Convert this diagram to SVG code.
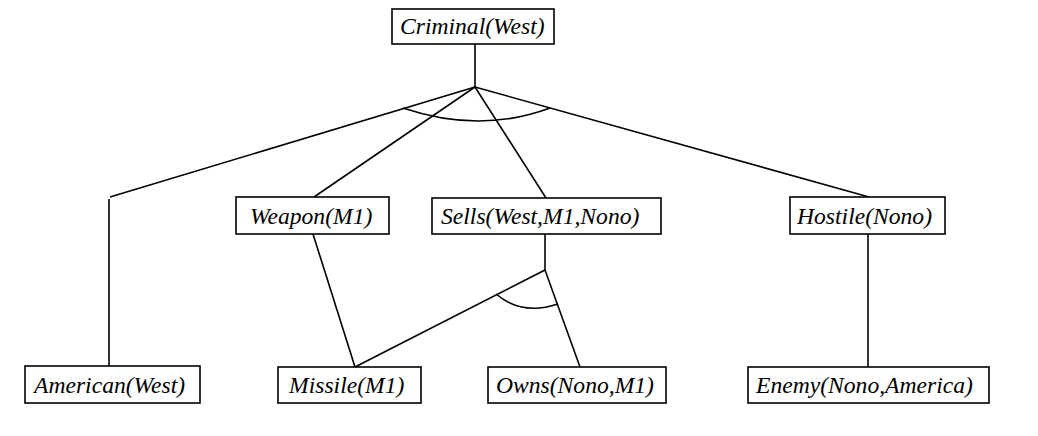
<svg xmlns="http://www.w3.org/2000/svg" width="1038" height="436" viewBox="0 0 1038 436">
<style>
.box{fill:#fff;stroke:#000;stroke-width:1.6}
.t{font-family:"Liberation Serif","Times New Roman",serif;font-style:italic;font-size:23.6px;fill:#000}
.c line,.c path,.c polyline{stroke:#000;stroke-width:1.6;fill:none}
</style>
<rect width="1038" height="436" fill="#fff"/>
<g class="c" id="connectors">
<line x1="475" y1="44" x2="475" y2="87"/>
<line x1="475" y1="87" x2="110" y2="197"/>
<line x1="109" y1="199" x2="109" y2="366"/>
<line x1="475" y1="87" x2="314" y2="197"/>
<line x1="475" y1="87" x2="546" y2="198"/>
<line x1="475" y1="87" x2="869" y2="197"/>
<path d="M403,108 Q480,134 550,108"/>
<line x1="313" y1="234" x2="355" y2="367"/>
<line x1="545" y1="234" x2="545" y2="270"/>
<line x1="545" y1="270" x2="355" y2="367"/>
<line x1="545" y1="270" x2="580" y2="367"/>
<path d="M496,294 Q522,316 558,304"/>
<line x1="868" y1="234" x2="868" y2="367"/>
</g>
<g id="n-criminal"><rect class="box" x="392" y="9" width="162" height="35"/><text class="t" x="400" y="34">Criminal(West)</text></g>
<g id="n-weapon"><rect class="box" x="236" y="197" width="153" height="37"/><text class="t" x="250" y="224">Weapon(M1)</text></g>
<g id="n-sells"><rect class="box" x="432" y="198" width="229" height="36"/><text class="t" x="441" y="224">Sells(West,M1,Nono)</text></g>
<g id="n-hostile"><rect class="box" x="790" y="197" width="155" height="37"/><text class="t" x="797" y="224">Hostile(Nono)</text></g>
<g id="n-american"><rect class="box" x="25" y="366" width="175" height="37"/><text class="t" x="34" y="393">American(West)</text></g>
<g id="n-missile"><rect class="box" x="278" y="367" width="143" height="36"/><text class="t" x="289" y="393">Missile(M1)</text></g>
<g id="n-owns"><rect class="box" x="488" y="367" width="178" height="36"/><text class="t" x="496" y="393">Owns(Nono,M1)</text></g>
<g id="n-enemy"><rect class="box" x="748" y="367" width="241" height="36"/><text class="t" x="756" y="393">Enemy(Nono,America)</text></g>
</svg>
